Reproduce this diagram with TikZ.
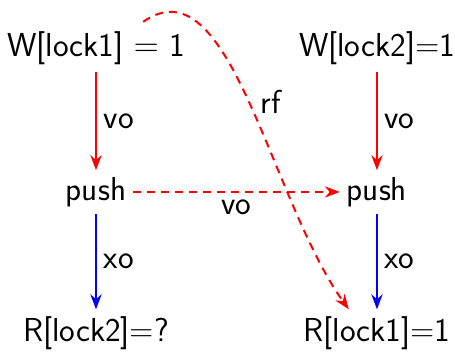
\documentclass[tikz,border=0pt]{standalone}
\usetikzlibrary{positioning, arrows.meta}
\usepackage{xcolor}

\begin{document}
\begin{tikzpicture}[
      every node/.style={font=\fontsize{16.6}{20}\selectfont\sffamily, text=black},
      vo/.style={->, line width=1pt, red},
      xo/.style={->, line width=1pt, blue},
      rf/.style={->, line width=1pt, red, dash pattern=on 4pt off 3pt},
      >=Stealth,
    ]
    \useasboundingbox (-1.687, 0.8435) rectangle (6.309, -5.377);

    \node (w1) at (0, 0)         {W[lock1] $=$ 1};
    \node (w2) at (4.938, 0)     {W[lock2]=1};
    \node (p1) at (0, -2.53)     {push};
    \node (p2) at (4.938, -2.53) {push};
    \node (r1) at (0, -5.008)    {R[lock2]=?};
    \node (r2) at (4.938, -5.008){R[lock1]=1};

    \coordinate (rfstart) at (0.83, 0.46);

    \draw[vo] (w1) -- node[right] {vo} (p1);
    \draw[vo] (w2) -- node[right] {vo} (p2);
    \draw[xo] (p1) -- node[right] {xo} (r1);
    \draw[xo] (p2) -- node[right] {xo} (r2);
    \draw[rf] (p1) -- node[below] {vo} (p2);
    \draw[rf] (rfstart) .. controls (2.355, 1.546) and (3.058, -2.671)
      .. node[pos=0.5, right=2pt] {rf} (r2.140);
  \end{tikzpicture}
\end{document}
